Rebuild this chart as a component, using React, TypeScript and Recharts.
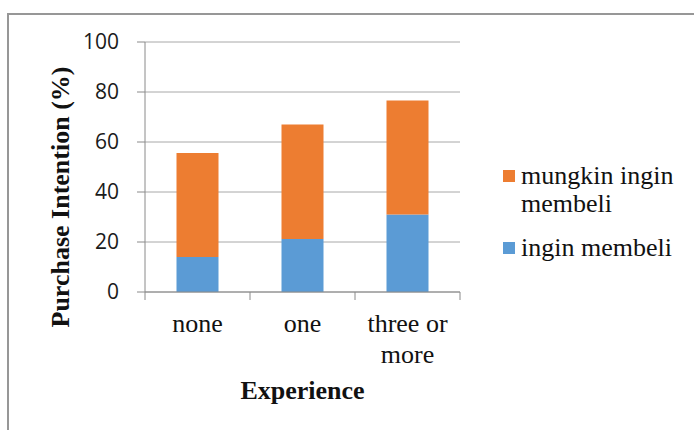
import React from "react";
import { BarChart, Bar, XAxis, YAxis, CartesianGrid, Legend } from "recharts";

const categories = ["none", "one", "three or\nmore"];
const inginMembeli = [14, 21.2, 31];
const mungkinIngin = [41.6, 45.8, 45.6];
const yTicks = [0, 20, 40, 60, 80, 100];

const data = categories.map((c, i) => ({
  experience: c,
  ingin: inginMembeli[i],
  mungkin: mungkinIngin[i],
}));

const SERIF = '"Liberation Serif", "Times New Roman", serif';
const AXIS = "#8a8a8a";

function CategoryTick(props: any) {
  const { x, y, payload, index, visibleTicksCount } = props;
  const half = payload?.offset ?? 52.5;
  const last = index === visibleTicksCount - 1;
  const lines = String(payload.value).split("\n");
  return (
    <g>
      <line x1={x - half} y1={y} x2={x - half} y2={y + 8} stroke={AXIS} />
      {last && <line x1={x + half} y1={y} x2={x + half} y2={y + 8} stroke={AXIS} />}
      <text x={x} y={y + 40} textAnchor="middle" fontFamily={SERIF} fontSize={26} fill="#111">
        {lines.map((l, i) => (
          <tspan key={i} x={x} dy={i === 0 ? 0 : 31}>
            {l}
          </tspan>
        ))}
      </text>
    </g>
  );
}

function LegendContent(props: any) {
  const items = [...(props.payload || [])].reverse();
  return (
    <div style={{ fontFamily: SERIF, fontSize: 26, lineHeight: "28px", color: "#111" }}>
      {items.map((it: any, i: number) => (
        <div key={it.value} style={{ display: "flex", alignItems: "flex-start", marginTop: i === 0 ? 0 : 16 }}>
          <span
            style={{
              width: 12,
              height: 12,
              background: it.color,
              marginTop: 8,
              marginRight: 6,
              flex: "0 0 12px",
            }}
          />
          <span>{it.value}</span>
        </div>
      ))}
    </div>
  );
}

export default function App() {
  return (
    <div style={{ position: "absolute", left: 0, top: 0, width: 694, height: 430, overflow: "hidden", background: "#fff" }}>
      <div
        style={{
          position: "absolute",
          left: 7,
          top: 13,
          width: 720,
          height: 460,
          border: "2px solid #979797",
        }}
      />
      <div style={{ position: "absolute", left: 0, top: 0 }}>
        <BarChart
          width={694}
          height={430}
          data={data}
          margin={{ top: 42, right: 234, bottom: 0, left: 0 }}
          barCategoryGap="30%"
        >
          <CartesianGrid horizontal vertical={false} stroke="#a8a8a8" />
          <XAxis
            dataKey="experience"
            height={138}
            axisLine={{ stroke: AXIS }}
            tickLine={false}
            tickSize={0}
            tickMargin={0}
            interval={0}
            tick={<CategoryTick />}
            label={{
              content: (p: any) => {
                const vb = p.viewBox || {};
                return (
                  <text
                    x={vb.x + vb.width / 2}
                    y={vb.y + 107}
                    textAnchor="middle"
                    fontFamily={SERIF}
                    fontSize={26}
                    fontWeight="bold"
                    fill="#111"
                  >
                    Experience
                  </text>
                );
              },
            }}
          />
          <YAxis
            width={145}
            domain={[0, 100]}
            ticks={yTicks}
            interval={0}
            axisLine={{ stroke: AXIS }}
            tickLine={{ stroke: AXIS }}
            tickSize={8}
            tickMargin={18}
            tick={{ fontFamily: '"Open Sans", "Liberation Sans", sans-serif', fontSize: 21, fill: "#1a1a1a" }}
            label={{
              content: () => (
                <text
                  x={60}
                  y={197}
                  transform="rotate(-90, 60, 197)"
                  textAnchor="middle"
                  dominantBaseline="central"
                  fontFamily={SERIF}
                  fontSize={26}
                  fontWeight="bold"
                  fill="#111"
                >
                  Purchase Intention (%)
                </text>
              ),
            }}
          />
          <Legend
            layout="vertical"
            align="center"
            verticalAlign="middle"
            content={<LegendContent />}
            wrapperStyle={{ left: 503, top: 162, width: 191, right: "auto", bottom: "auto" }}
          />
          <Bar dataKey="ingin" name="ingin membeli" stackId="a" fill="#5B9BD5" isAnimationActive={false} />
          <Bar dataKey="mungkin" name="mungkin ingin membeli" stackId="a" fill="#ED7D31" isAnimationActive={false} />
        </BarChart>
      </div>
    </div>
  );
}
